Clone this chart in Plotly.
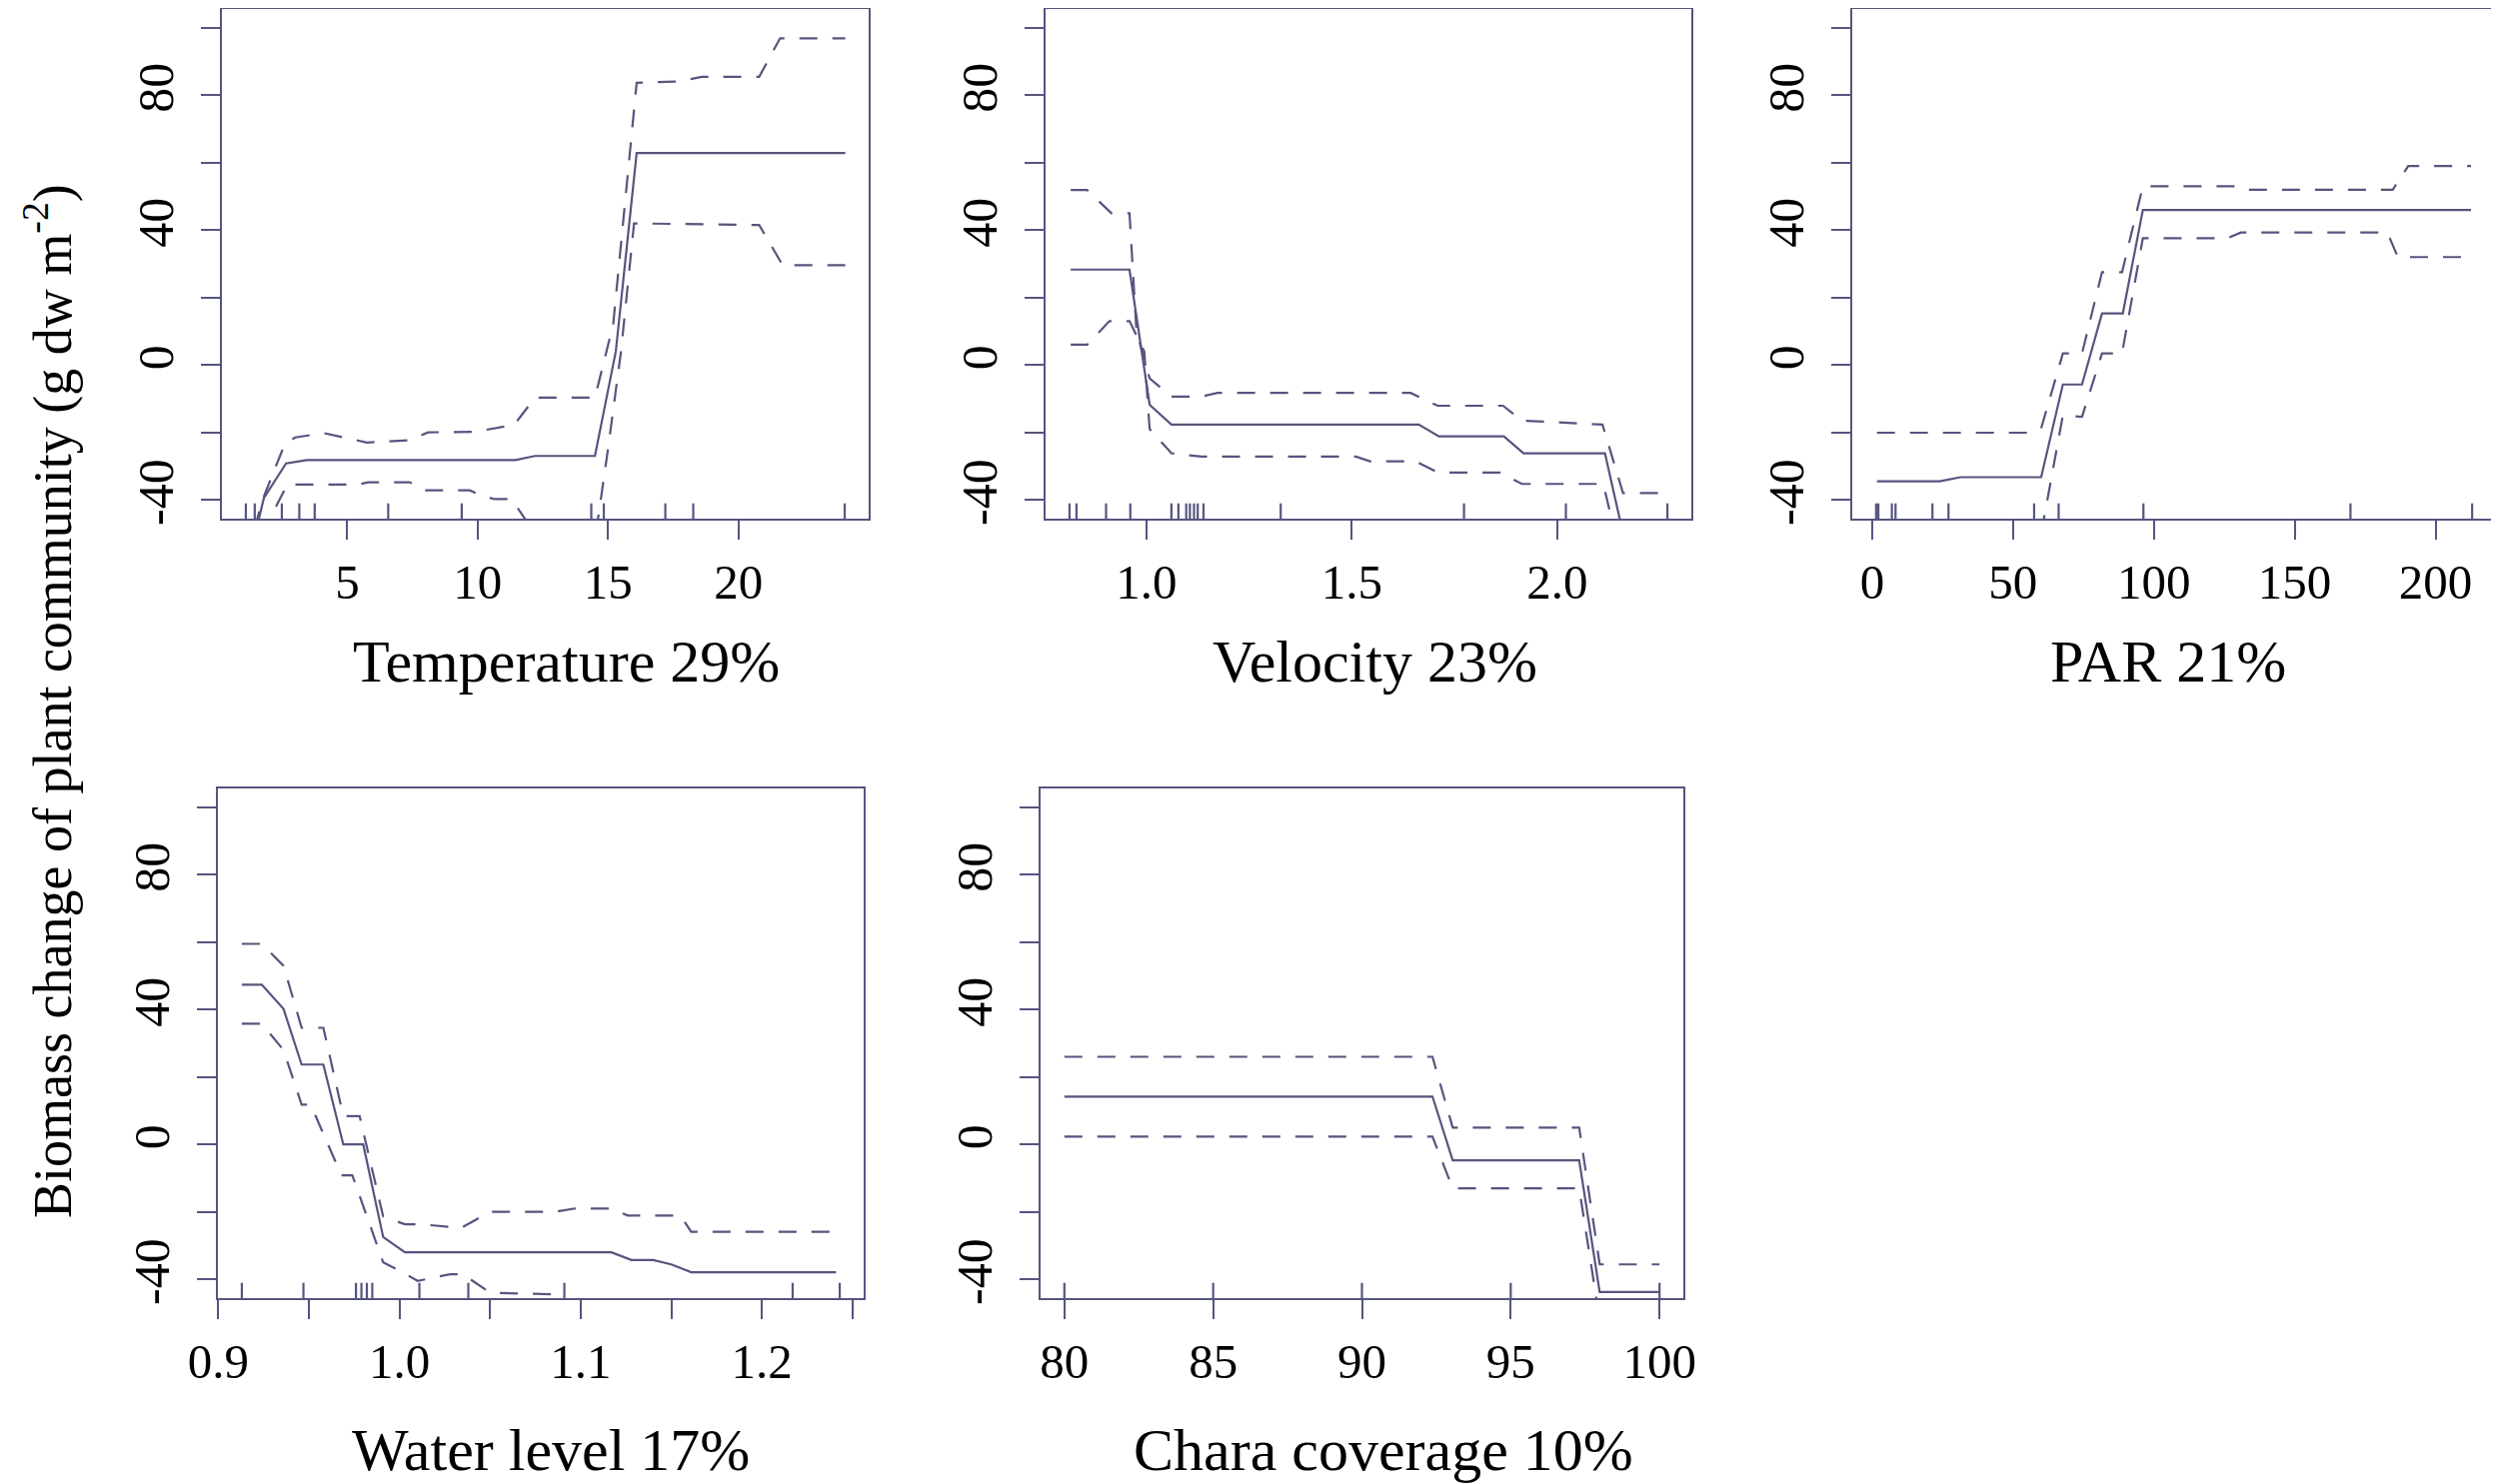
import plotly.graph_objects as go

# ---------------- data ----------------
temp_x = [1.1, 1.8, 2.65, 3.45, 11.45, 12.2, 14.5, 15.3, 16.1, 24.1]
temp_fit = [-62, -39.5, -29.2, -28.2, -28.2, -27.0, -27.0, 4.0, 62.9, 62.9]
temp_hi_x = [1.1, 1.75, 2.6, 3.0, 4.1, 5.75, 7.4, 8.1, 9.9, 11.4, 12.2, 14.5, 15.2, 16.1, 17.7, 18.6, 20.8, 21.6, 24.1]
temp_hi = [-58, -40, -23.5, -21.5, -20.2, -23.0, -22.3, -20.0, -19.8, -17.8, -9.7, -9.7, 12, 83.7, 84.1, 85.5, 85.5, 96.9, 96.9]
temp_lo_x = [1.1, 2.0, 2.7, 5.4, 5.8, 7.4, 8.0, 9.7, 10.2, 10.65, 11.3, 12.2, 14.5, 15.0, 15.5, 16.0, 20.8, 21.7, 24.1]
temp_lo = [-80, -46, -35.5, -35.5, -34.8, -34.8, -37.2, -37.2, -38.9, -39.8, -39.8, -50, -52, -25, 4, 42, 41.5, 29.6, 29.6]
temp_rug = [1.11, 1.45, 2.49, 3.16, 3.75, 6.57, 9.39, 14.36, 14.84, 17.2, 18.27, 24.08]

vel_x = [0.816, 0.959, 1.008, 1.061, 1.663, 1.712, 1.870, 1.918, 2.116, 2.16, 2.269]
vel_fit = [28.3, 28.3, -11.8, -17.7, -17.7, -21.2, -21.2, -26.2, -26.2, -50, -52]
vel_hi_x = [0.816, 0.856, 0.915, 0.959, 0.976, 1.008, 1.061, 1.134, 1.173, 1.643, 1.709, 1.868, 1.914, 2.11, 2.16, 2.269]
vel_hi = [51.9, 51.9, 45, 45, 10, -4, -9.4, -9.4, -8.3, -8.3, -12.1, -12.1, -16.5, -17.7, -38, -38]
vel_lo_x = [0.816, 0.856, 0.91, 0.959, 0.995, 1.008, 1.061, 1.134, 1.51, 1.544, 1.656, 1.709, 1.861, 1.914, 2.112, 2.16, 2.269]
vel_lo = [6.0, 6.0, 13, 13, 4, -19, -26.2, -27.2, -27.2, -28.6, -28.6, -31.9, -31.9, -35.3, -35.3, -60, -60]
vel_rug = [0.813, 0.830, 0.902, 0.961, 1.061, 1.078, 1.097, 1.106, 1.116, 1.125, 1.139, 1.327, 1.773, 2.021, 2.268]

par_x = [1.7, 24, 31.4, 60, 67.7, 74.5, 81.6, 89, 96.1, 212.6]
par_fit = [-34.5, -34.5, -33.3, -33.3, -5.8, -5.8, 15.3, 15.3, 46, 46]
par_hi_x = [1.7, 55, 60, 67.7, 74.5, 81.6, 88.7, 96.1, 129, 132.7, 184.8, 190.3, 212.6]
par_hi = [-20.1, -20.1, -18.8, 3.4, 3.4, 27.5, 27.5, 53, 53, 52, 52, 59, 59]
par_lo_x = [1.7, 60, 67.7, 74.5, 81.6, 88.7, 96.1, 126.2, 130.9, 182.9, 186.6, 212.6]
par_lo = [-50, -50, -15, -15.4, 3.4, 3.4, 37.6, 37.6, 39.3, 39.3, 32, 32]
par_rug = [1.4, 2.2, 7.0, 8.3, 21.4, 27.1, 57.5, 66.2, 96.3, 169.8, 213.0]

wl_x = [0.913, 0.924, 0.936, 0.946, 0.958, 0.969, 0.980, 0.991, 1.003, 1.117, 1.128, 1.140, 1.150, 1.161, 1.241]
wl_fit = [47.4, 47.4, 40.2, 23.7, 23.7, 0, 0, -27.5, -32, -32, -34.3, -34.3, -35.6, -37.9, -37.9]
wl_hi_x = [0.913, 0.924, 0.936, 0.946, 0.958, 0.969, 0.978, 0.991, 1.003, 1.012, 1.034, 1.05, 1.086, 1.097, 1.117, 1.126, 1.155, 1.161, 1.241]
wl_hi = [59.5, 59.5, 53, 34.6, 34.6, 8.4, 8.4, -21.4, -23.7, -23.7, -24.8, -20, -20, -19, -19, -21.1, -21.1, -25.9, -25.9]
wl_lo_x = [0.913, 0.924, 0.936, 0.946, 0.951, 0.968, 0.974, 0.991, 1.002, 1.01, 1.028, 1.035, 1.05, 1.086, 1.1, 1.241]
wl_lo = [35.8, 35.8, 28, 11.8, 11.8, -9.2, -9.2, -35, -38, -40.5, -38.5, -38.5, -44, -44.5, -50, -50]
wl_rug = [0.913, 0.947, 0.976, 0.979, 0.982, 0.985, 1.011, 1.038, 1.091, 1.217, 1.243]

ch_x = [80, 92.37, 93.05, 97.3, 97.99, 100]
ch_fit = [14.2, 14.2, -4.7, -4.7, -43.8, -43.8]
ch_hi = [26, 26, 5, 5, -35.6, -35.6]
ch_lo = [2.3, 2.3, -13, -13, -52, -52]
ch_rug = [80, 85, 90, 95, 100]

titles = ["Temperature 29%", "Velocity 23%", "PAR 21%", "Water level 17%", "Chara coverage 10%"]
# (labelled ticks, their labels, unlabelled ticks)
xticks = [
    ([5, 10, 15, 20], ["5", "10", "15", "20"], []),
    ([1.0, 1.5, 2.0], ["1.0", "1.5", "2.0"], []),
    ([0, 50, 100, 150, 200], ["0", "50", "100", "150", "200"], []),
    ([0.9, 1.0, 1.1, 1.2], ["0.9", "1.0", "1.1", "1.2"], [0.95, 1.05, 1.15, 1.25]),
    ([80, 85, 90, 95, 100], ["80", "85", "90", "95", "100"], []),
]
yticks_major = [-40, 0, 40, 80]
yticks_text = ["-40", "0", "40", "80"]
yticks_minor = [-20, 20, 60, 100]
ylim = [-40, 100]

panels = [
    (temp_x, temp_fit, temp_hi_x, temp_hi, temp_lo_x, temp_lo, temp_rug),
    (vel_x, vel_fit, vel_hi_x, vel_hi, vel_lo_x, vel_lo, vel_rug),
    (par_x, par_fit, par_hi_x, par_hi, par_lo_x, par_lo, par_rug),
    (wl_x, wl_fit, wl_hi_x, wl_hi, wl_lo_x, wl_lo, wl_rug),
    (ch_x, ch_fit, ch_x, ch_hi, ch_x, ch_lo, ch_rug),
]

# ---------------- layout geometry (target pixels) ----------------
OFF = 8                       # default page body margin
W, H = 2500 - OFF, 1485 - OFF  # figure size
boxes = [  # left, right, top, bottom (in 2500x1485 page pixels)
    (222, 869, 9, 519),
    (1046, 1692, 9, 519),
    (1853, 2497, 9, 519),
    (218, 864, 789, 1299),
    (1041, 1684, 789, 1299),
]
title_shift = [21, 6, -6, 10, 21]
LINE = "#55557f"
FONT = "Liberation Serif"

def px_x(p):
    return min(1.0, max(0.0, (p - OFF) / W))

def px_y(p):
    return min(1.0, max(0.0, 1 - (p - OFF) / H))

fig = go.Figure()
layout = dict(
    width=W, height=H, margin=dict(l=0, r=0, t=0, b=0, autoexpand=False),
    paper_bgcolor="white", plot_bgcolor="white", showlegend=False,
    font=dict(family=FONT, color="black", size=49),
)
annotations = []
shapes = []

def pad(lo, hi):
    d = (hi - lo) * 0.04
    return [lo - d, hi + d]

for i, (px, pf, hx, hv, lx, lv, rug) in enumerate(panels):
    n = "" if i == 0 else str(i + 1)
    xa, ya = "x" + n, "y" + n
    l, r, t, b = boxes[i]
    xr = pad(min(rug), max(rug))
    yr = pad(*ylim)
    fig.add_trace(go.Scatter(x=px, y=pf, mode="lines", xaxis=xa, yaxis=ya,
                             line=dict(color=LINE, width=2.2), hoverinfo="skip"))
    fig.add_trace(go.Scatter(x=hx, y=hv, mode="lines", xaxis=xa, yaxis=ya,
                             line=dict(color=LINE, width=2.2, dash="18px,15px"), hoverinfo="skip"))
    fig.add_trace(go.Scatter(x=lx, y=lv, mode="lines", xaxis=xa, yaxis=ya,
                             line=dict(color=LINE, width=2.2, dash="18px,15px"), hoverinfo="skip"))
    for v in rug:
        shapes.append(dict(type="line", xref=xa, yref=ya + " domain", x0=v, x1=v, y0=0, y1=0.03,
                           line=dict(color=LINE, width=2.2)))
    tv, tt, tminor = xticks[i]
    minor_x = dict(tickvals=tminor, ticks="outside", ticklen=19, tickwidth=2.2,
                   tickcolor=LINE, showgrid=False) if tminor else dict(ticks="")
    layout["xaxis" + n] = dict(
        domain=[px_x(l), px_x(r)], range=xr, anchor=ya, automargin=False,
        showline=True, mirror=True, linecolor=LINE, linewidth=2.2,
        showgrid=False, zeroline=False, ticks="outside", ticklen=19, tickwidth=2.2,
        tickcolor=LINE, tickmode="array", tickvals=tv, ticktext=tt,
        ticklabelstandoff=0, minor=minor_x,
        tickfont=dict(family=FONT, size=49, color="black"),
    )
    layout["yaxis" + n] = dict(
        domain=[px_y(b), px_y(t)], range=yr, anchor=xa, automargin=False,
        showline=True, mirror=True, linecolor=LINE, linewidth=2.2,
        showgrid=False, zeroline=False, ticks="outside", ticklen=19, tickwidth=2.2,
        tickcolor=LINE, tickmode="array", tickvals=yticks_major, ticktext=yticks_text,
        tickangle=-90, ticklabelstandoff=8,
        minor=dict(tickvals=yticks_minor, ticks="outside", ticklen=19, tickwidth=2.2,
                   tickcolor=LINE, showgrid=False),
        tickfont=dict(family=FONT, size=50, color="black"),
    )
    ty = 662 if i < 3 else 1451
    annotations.append(dict(text=titles[i], xref="paper", yref="paper",
                            x=px_x((l + r) / 2 + title_shift[i]), y=px_y(ty),
                            xanchor="center", yanchor="middle",
                            showarrow=False, font=dict(family=FONT, size=60, color="black")))

annotations.append(dict(text="Biomass change of plant community (g dw m<sup>-2</sup>)",
                        xref="paper", yref="paper", x=px_x(48), y=px_y(702),
                        xanchor="center", yanchor="middle", textangle=-90, showarrow=False,
                        font=dict(family=FONT, size=54, color="black")))

layout["annotations"] = annotations
layout["shapes"] = shapes
fig.update_layout(**layout)
fig.write_html("out.html")
